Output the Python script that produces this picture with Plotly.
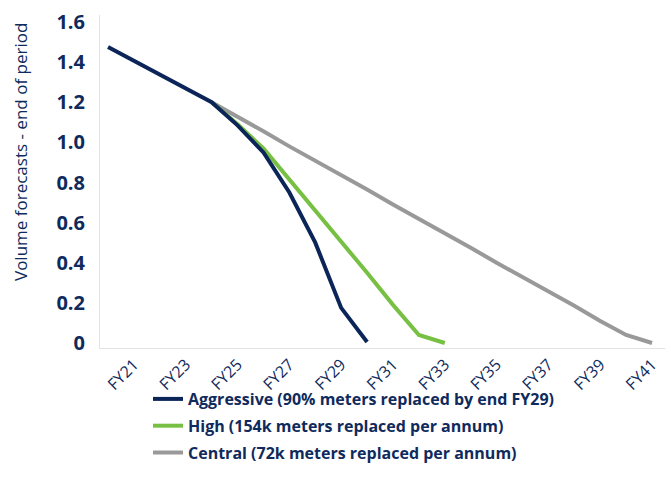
import plotly.graph_objects as go

years = ["FY%d" % y for y in range(20, 42)]
tick_labels = ["FY21", "FY23", "FY25", "FY27", "FY29", "FY31", "FY33", "FY35", "FY37", "FY39", "FY41"]

aggressive = [1.475, 1.405, 1.335, 1.27, 1.20, 1.085, 0.95, 0.75, 0.50, 0.175, 0.005,
              None, None, None, None, None, None, None, None, None, None, None]
high = [None, None, None, None, 1.20, 1.09, 0.97, 0.815, 0.66, 0.51, 0.35,
        0.19, 0.04, 0.0, None, None, None, None, None, None, None, None]
central = [None, None, None, None, 1.20, 1.13, 1.055, 0.98, 0.91, 0.84, 0.765,
           0.69, 0.62, 0.55, 0.475, 0.40, 0.33, 0.26, 0.185, 0.11, 0.04, 0.0]

names = ["Aggressive (90% meters replaced by end FY29)",
         "High (154k meters replaced per annum)",
         "Central (72k meters replaced per annum)"]
colors = ["#0b2559", "#77c043", "#999999"]

y_ticks = [0, 0.2, 0.4, 0.6, 0.8, 1.0, 1.2, 1.4, 1.6]
y_tick_text = ["0", "0.2", "0.4", "0.6", "0.8", "1.0", "1.2", "1.4", "1.6"]

navy = "#0f2a5c"
FONT = "Open Sans"

L, R, T, B = 100, 6, 15, 140
PW = 671 - L - R
PH = 488 - T - B

fig = go.Figure()
series = [aggressive, high, central]
for idx in [2, 1, 0]:
    fig.add_trace(go.Scatter(
        x=years, y=series[idx], name=names[idx], mode="lines",
        line=dict(color=colors[idx], width=4),
        legendrank=idx + 1, legendgroup="g%d" % idx,
    ))

fig.update_layout(
    width=671, height=488,
    margin=dict(l=L, r=R, t=T, b=B, autoexpand=False),
    plot_bgcolor="white", paper_bgcolor="white",
    font=dict(family=FONT, color=navy),
    showlegend=True,
    legend=dict(
        x=(148 - L) / PW, y=-(382 - (T + PH)) / PH, xanchor="left", yanchor="top",
        font=dict(family=FONT, size=16, color=navy, weight="bold"),
        tracegroupgap=3, bgcolor="rgba(0,0,0,0)",
    ),
    xaxis=dict(
        type="category", categoryorder="array", categoryarray=years,
        range=[-0.31, 21.5],
        tickvals=tick_labels, ticktext=tick_labels,
        tickangle=-45, tickfont=dict(size=16, color=navy),
        showgrid=False, showline=True, linecolor="#e3e3e3", linewidth=1,
        ticks="", zeroline=False,
    ),
    yaxis=dict(
        range=[-0.025, 1.635],
        tickvals=y_ticks, ticktext=y_tick_text,
        tickfont=dict(size=20, color=navy, weight="bold"),
        showgrid=False, showline=True, linecolor="#e3e3e3", linewidth=1,
        ticks="outside", ticklen=10, tickcolor="rgba(0,0,0,0)",
        zeroline=False,
    ),
    annotations=[dict(
        text="Volume forecasts - end of period",
        xref="paper", yref="paper", x=(20 - L) / PW, y=(T + PH - 152) / PH,
        xanchor="center", yanchor="middle", showarrow=False,
        textangle=-90, font=dict(family=FONT, size=17, color=navy),
    )],
)

fig.write_html("out.html")
